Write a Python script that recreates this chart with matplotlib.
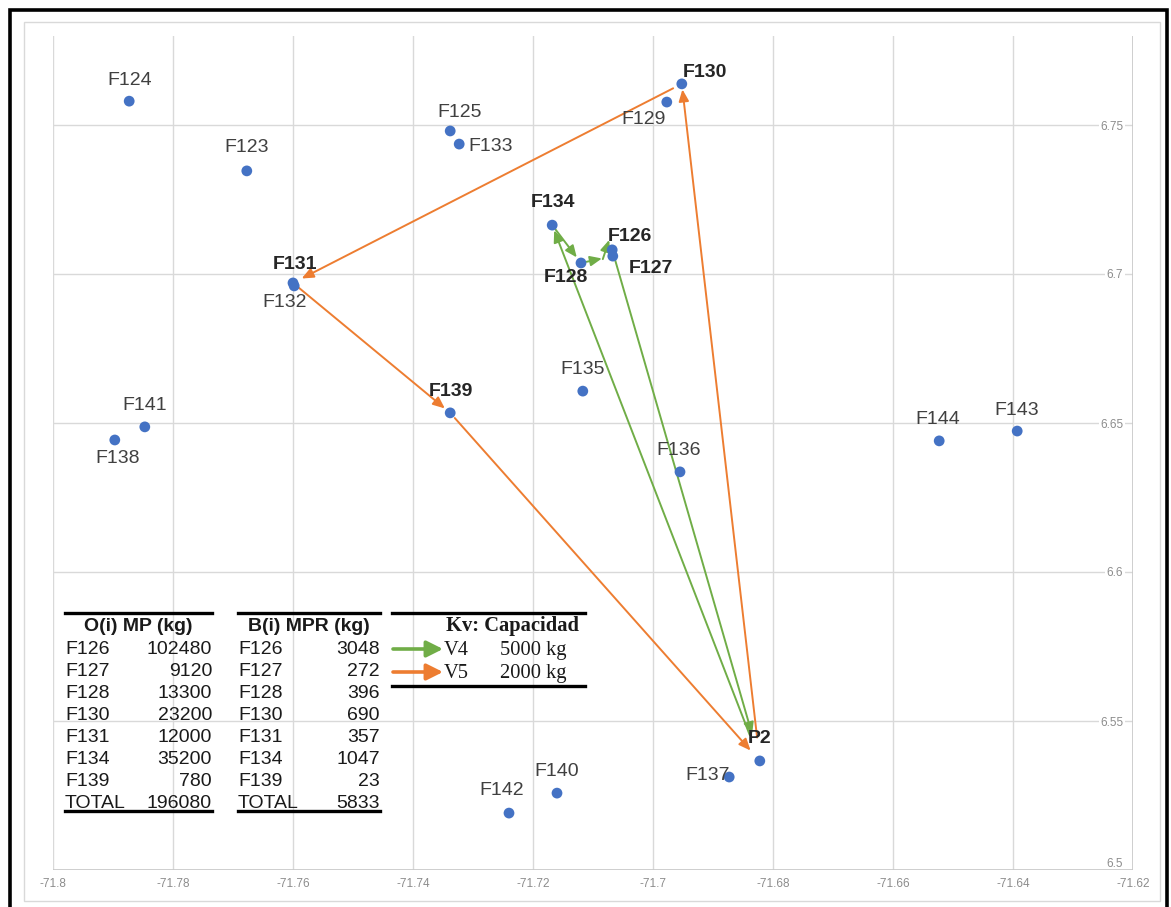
import matplotlib
matplotlib.use("Agg")
import matplotlib.pyplot as plt
from matplotlib.patches import Rectangle, FancyArrowPatch
from matplotlib.lines import Line2D
from matplotlib.transforms import offset_copy

# ---------------- data ----------------
names = ["F124", "F123", "F125", "F133", "F130", "F129", "F134", "F128", "F126", "F127",
         "F131", "F132", "F139", "F135", "F136", "F141", "F138", "F144", "F143",
         "P2", "F137", "F140", "F142"]
lon = [-71.7873, -71.7677, -71.7338, -71.7323, -71.6952, -71.6977, -71.7168, -71.7120, -71.7068, -71.7067,
       -71.7600, -71.7598, -71.7338, -71.7117, -71.6955, -71.7847, -71.7897, -71.6523, -71.6393,
       -71.6822, -71.6873, -71.7160, -71.7240]
lat = [6.7580, 6.7346, 6.7480, 6.7436, 6.7638, 6.7577, 6.7164, 6.7037, 6.7081, 6.7060,
       6.6970, 6.6960, 6.6534, 6.6607, 6.6336, 6.6487, 6.6443, 6.6440, 6.6473,
       6.5366, 6.5312, 6.5258, 6.5191]
bold_nodes = ["F130", "F134", "F126", "F128", "F127", "F131", "F139", "P2"]

route_v5 = ["P2", "F130", "F131", "F139", "P2"]
route_v4 = ["P2", "F134", "F128", "F127", "F126", "P2"]

x_ticks = [-71.8, -71.78, -71.76, -71.74, -71.72, -71.7, -71.68, -71.66, -71.64, -71.62]
x_tick_labels = ["-71.8", "-71.78", "-71.76", "-71.74", "-71.72", "-71.7", "-71.68", "-71.66", "-71.64", "-71.62"]
y_ticks = [6.5, 6.55, 6.6, 6.65, 6.7, 6.75]
y_tick_labels = ["6.5", "6.55", "6.6", "6.65", "6.7", "6.75"]

tbl_farms = ["F126", "F127", "F128", "F130", "F131", "F134", "F139", "TOTAL"]
tbl_mp = ["102480", "9120", "13300", "23200", "12000", "35200", "780", "196080"]
tbl_mpr = ["3048", "272", "396", "690", "357", "1047", "23", "5833"]
veh_names = ["V4", "V5"]
veh_caps = ["5000 kg", "2000 kg"]

# ---------------- style ----------------
W, H = 1171, 907
GREEN = "#70AD47"
ORANGE = "#ED7D31"
BLUE = "#4472C4"
SANS = ["Liberation Sans", "DejaVu Sans"]
SERIF = ["Liberation Serif", "DejaVu Serif"]

# label offsets (image px: dx right, dy down)
label_off = {
    "F124": (0, -21), "F123": (0, -23), "F125": (9, -18), "F133": (31, 2),
    "F130": (23, -11), "F129": (-23, 17), "F134": (1, -23), "F126": (18, -13),
    "F128": (-15, 15), "F127": (38, 12), "F131": (2, -18), "F132": (-10, 17),
    "F139": (1, -21), "F135": (0, -22), "F136": (-1, -21), "F141": (0, -21),
    "F138": (3, 19), "F144": (-1, -21), "F143": (-1, -21), "P2": (0, -22),
    "F137": (-22, -2), "F140": (0, -22), "F142": (-7, -23),
}
# shrink (points) at start/end of each route segment
v5_shrink = [(17, 4), (7, 7), (5, 5), (5, 10)]
v4_shrink = [(20, 4), (4, 5), (4, 8), None, (4, 20)]

fig = plt.figure(figsize=(W / 100, H / 100), dpi=100)
plt.rcParams["font.family"] = SANS


def fx(px):
    return px / W


def fy(py):
    return 1 - py / H


# frames
fig.add_artist(Rectangle((fx(24), fy(901)), fx(1160) - fx(24), fy(22) - fy(901),
                         transform=fig.transFigure, fill=False, ec="#d9d9d9", lw=1, zorder=0))
fig.add_artist(Rectangle((fx(10), fy(915)), fx(1167) - fx(10), fy(10) - fy(915),
                         transform=fig.transFigure, fill=False, ec="black", lw=2.6, zorder=10))

ax = fig.add_axes([fx(53), fy(870), fx(1133) - fx(53), fy(35.6) - fy(870)])
ax.set_xlim(-71.8, -71.62)
ax.set_ylim(6.5, 6.78)
for s in ax.spines.values():
    s.set_visible(False)
ax.set_xticks(x_ticks)
ax.set_xticklabels(x_tick_labels)
ax.set_yticks(y_ticks)
ax.set_yticklabels(y_tick_labels)
ax.grid(True, color="#d9d9d9", lw=1)
ax.set_axisbelow(True)
ax.yaxis.tick_right()
ax.tick_params(axis="y", length=0, pad=-7, labelsize=8.5, labelcolor="#8c8c8c")
ax.tick_params(axis="x", length=0, pad=6, labelsize=8.5, labelcolor="#8c8c8c")
for i, lbl in enumerate(ax.get_yticklabels()):
    lbl.set_ha("right")
    if i == 0:
        lbl.set_va("bottom")
    else:
        lbl.set_bbox(dict(fc="white", ec="none", pad=1))
ax.axvline(-71.62, color="#c8c8c8", lw=1.2, zorder=1)
ax.axhline(6.5, color="#c8c8c8", lw=1.2, zorder=1)

pos = {n: (x, y) for n, x, y in zip(names, lon, lat)}


def seg(a, b, color, sA, sB, xyc="data", txc="data"):
    ax.annotate("", xy=pos[b], xytext=pos[a], xycoords=xyc, textcoords=txc,
                arrowprops=dict(arrowstyle="-|>,head_length=0.7,head_width=0.3",
                                color=color, lw=1.4, shrinkA=sA, shrinkB=sB,
                                mutation_scale=10), zorder=3)


for i in range(len(route_v5) - 1):
    sA, sB = v5_shrink[i]
    seg(route_v5[i], route_v5[i + 1], ORANGE, sA, sB)
for i in range(len(route_v4) - 1):
    a, b = route_v4[i], route_v4[i + 1]
    if v4_shrink[i] is None:
        xyc = offset_copy(ax.transData, fig=fig, x=-3, y=10, units="dots")
        txc = offset_copy(ax.transData, fig=fig, x=-10, y=-3, units="dots")
        seg(a, b, GREEN, 0, 0, xyc=xyc, txc=txc)
    else:
        sA, sB = v4_shrink[i]
        seg(a, b, GREEN, sA, sB)

ax.scatter(lon, lat, s=60, color=BLUE, zorder=5, edgecolors="none")

for n, x, y in zip(names, lon, lat):
    dx, dy = label_off[n]
    b = n in bold_nodes
    ax.annotate(n, (x, y), xytext=(dx * 0.72, -dy * 0.72), textcoords="offset points",
                ha="center", va="center", fontsize=14,
                fontweight="bold" if b else "normal",
                color="#262626" if b else "#404040", zorder=6)

# ---------------- tables ----------------
TXT = "#1a1a1a"


def hline(x0, x1, y, lw=2.4):
    fig.add_artist(Line2D([fx(x0), fx(x1)], [fy(y), fy(y)], transform=fig.transFigure,
                          color="black", lw=lw, zorder=8))


def table(x_left, x_right, header, values):
    hline(x_left, x_right, 613)
    hline(x_left, x_right, 811)
    fig.text(fx((x_left + x_right) / 2), fy(625 + 6), header, ha="center", va="baseline",
             fontsize=14, fontweight="bold", color=TXT, family=SANS, zorder=9)
    for i, (f, v) in enumerate(zip(tbl_farms, values)):
        yb = fy(648 + 22 * i + 6)
        fig.text(fx(x_left), yb, f, ha="left", va="baseline", fontsize=14, color=TXT,
                 family=SANS, zorder=9)
        fig.text(fx(x_right), yb, v, ha="right", va="baseline", fontsize=14, color=TXT,
                 family=SANS, zorder=9)


table(65, 212, "O(i) MP (kg)", tbl_mp)
table(238, 380, "B(i) MPR (kg)", tbl_mpr)

# vehicle legend
hline(392, 585, 613)
hline(392, 585, 686)
fig.text(fx(512), fy(625 + 6), "Kv: Capacidad", ha="center", va="baseline", fontsize=14.8,
         fontweight="bold", color=TXT, family=SERIF, zorder=9)
for i, (vn, vc, col) in enumerate(zip(veh_names, veh_caps, [GREEN, ORANGE])):
    yy = 649 + 23 * i
    fig.add_artist(FancyArrowPatch(
        (fx(393), fy(yy)), (fx(443), fy(yy)), transform=fig.transFigure,
        arrowstyle="-|>,head_length=0.7,head_width=0.35", mutation_scale=14,
        color=col, lw=2.6, shrinkA=0, shrinkB=0, zorder=9))
    fig.text(fx(444), fy(yy + 6), vn, ha="left", va="baseline", fontsize=14.8,
             color=TXT, family=SERIF, zorder=9)
    fig.text(fx(500), fy(yy + 6), vc, ha="left", va="baseline", fontsize=14.8,
             color=TXT, family=SERIF, zorder=9)

fig.savefig("out.png", dpi=100)
